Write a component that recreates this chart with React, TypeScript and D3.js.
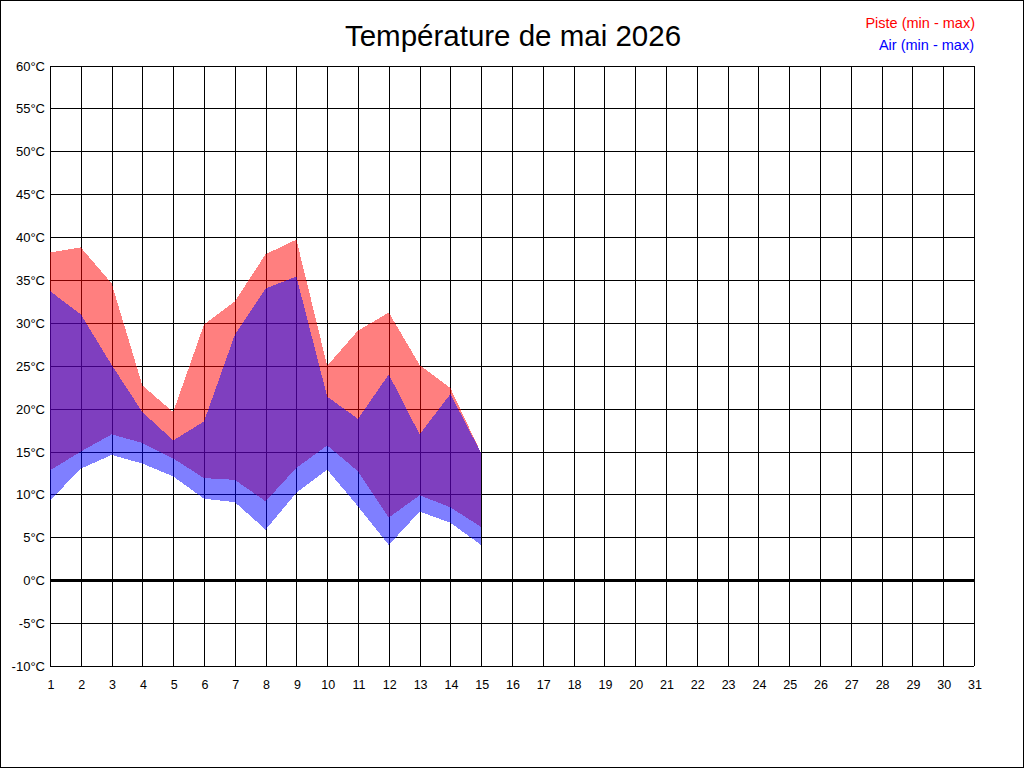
import React from "react";
import * as d3 from "d3";

const days = d3.range(1, 32);
const dataDays = [1, 2, 3, 4, 5, 6, 7, 8, 9, 10, 11, 12, 13, 14, 15];
const pisteMin = [12.8, 15.0, 17.0, 16.0, 14.2, 11.9, 11.7, 9.2, 13.1, 15.7, 12.7, 7.3, 9.9, 8.5, 6.2];
const pisteMax = [38.2, 38.8, 34.6, 22.7, 19.6, 29.8, 32.5, 38.0, 39.7, 25.0, 29.1, 31.2, 25.1, 22.4, 14.8];
const airMin = [9.3, 13.0, 14.6, 13.6, 12.1, 9.5, 9.1, 5.9, 10.2, 12.9, 8.6, 4.1, 8.0, 6.7, 4.1];
const airMax = [33.7, 31.0, 25.1, 19.6, 16.3, 18.5, 28.6, 34.0, 35.4, 21.4, 18.8, 24.0, 17.0, 21.7, 14.8];
const yTicks = d3.range(-10, 61, 5);
const title = "Température de mai 2026";
const legendPiste = "Piste (min - max)";
const legendAir = "Air (min - max)";

const W = 1024;
const H = 768;
const FONT = "'Liberation Sans', Arial, sans-serif";

export default function App() {
  const x = d3.scaleLinear().domain([1, 31]).range([50, 974]);
  const y = d3.scaleLinear().domain([-10, 60]).range([666, 65.5]);

  const band = (lo: number[], hi: number[]) =>
    d3
      .area<number>()
      .x((d) => x(d))
      .y0((_, i) => y(lo[i]))
      .y1((_, i) => y(hi[i]))(dataDays) || "";

  const px = (v: number) => Math.round(v) + 0.5;

  return (
    <svg
      width={W}
      height={H}
      style={{ position: "absolute", left: 0, top: 0, background: "#fff" }}
      fontFamily={FONT}
    >
      <rect x={0.5} y={0.5} width={W - 1} height={H - 1} fill="#fff" stroke="#000" />
      <text x={513} y={46} textAnchor="middle" fontSize={29.5} fill="#000">
        {title}
      </text>
      <text x={975} y={28} textAnchor="end" fontSize={14.5} fill="#ff0000">
        {legendPiste}
      </text>
      <text x={974} y={50} textAnchor="end" fontSize={14.5} fill="#0000ff">
        {legendAir}
      </text>

      <g shapeRendering="crispEdges" stroke="#000" strokeWidth={1}>
        {yTicks.map((t) => (
          <line key={"h" + t} x1={50} x2={974} y1={px(y(t))} y2={px(y(t))} />
        ))}
        {days.map((d) => (
          <line key={"v" + d} x1={px(x(d))} x2={px(x(d))} y1={y(60)} y2={y(-10)} />
        ))}
      </g>

      <path d={band(pisteMin, pisteMax)} fill="rgba(255,0,0,0.5)" shapeRendering="crispEdges" />
      <path d={band(airMin, airMax)} fill="rgba(0,0,255,0.5)" shapeRendering="crispEdges" />

      <line
        x1={50}
        x2={975}
        y1={Math.round(y(0)) + 0.5}
        y2={Math.round(y(0)) + 0.5}
        stroke="#000"
        strokeWidth={3}
        shapeRendering="crispEdges"
      />

      <g fill="#000">
        {yTicks.map((t) => (
          <text key={"yl" + t} x={45} y={y(t) + 5} textAnchor="end" fontSize={13}>
            {`${t}°C`}
          </text>
        ))}
        {days.map((d) => (
          <text key={"xl" + d} x={x(d) + 1} y={689} textAnchor="middle" fontSize={12.5}>
            {d}
          </text>
        ))}
      </g>
    </svg>
  );
}
